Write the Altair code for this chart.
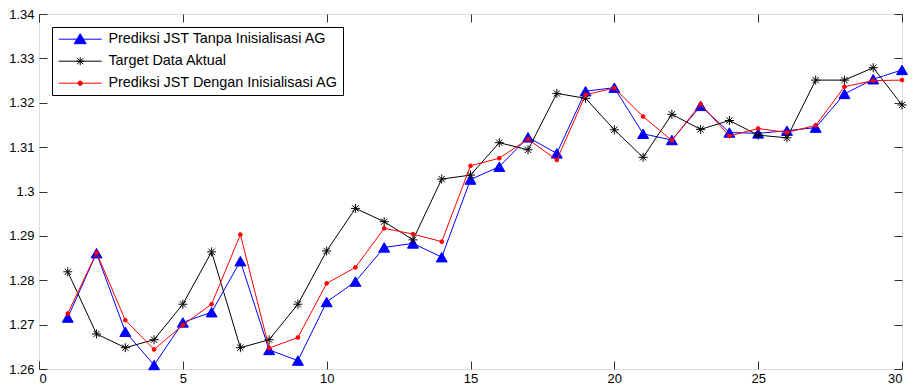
import altair as alt
import pandas as pd

# ---------------- data ----------------
x_values = list(range(1, 31))
series_names = [
    "Prediksi JST Tanpa Inisialisasi AG",
    "Target Data Aktual",
    "Prediksi JST Dengan Inisialisasi AG",
]
tanpa_ag = [1.2716, 1.2861, 1.2684, 1.2609, 1.2705, 1.2728, 1.2843, 1.2643, 1.2619, 1.2751,
            1.2797, 1.2874, 1.2883, 1.2852, 1.3027, 1.3056, 1.3122, 1.3086, 1.3226, 1.3234,
            1.3130, 1.3116, 1.3193, 1.3133, 1.3131, 1.3137, 1.3144, 1.3220, 1.3253, 1.3274]
target = [1.2819, 1.2679, 1.2648, 1.2666, 1.2746, 1.2864, 1.2648, 1.2666, 1.2746, 1.2866,
          1.2962, 1.2932, 1.2891, 1.3028, 1.3037, 1.3110, 1.3094, 1.3221, 1.3210, 1.3139,
          1.3077, 1.3174, 1.3140, 1.3160, 1.3127, 1.3121, 1.3251, 1.3251, 1.3279, 1.3195]
dengan_ag = [1.2725, 1.2862, 1.2710, 1.2644, 1.2699, 1.2746, 1.2903, 1.2647, 1.2671, 1.2793,
             1.2829, 1.2917, 1.2904, 1.2887, 1.3058, 1.3075, 1.3118, 1.3071, 1.3218, 1.3233,
             1.3169, 1.3115, 1.3197, 1.3125, 1.3142, 1.3133, 1.3149, 1.3236, 1.3250, 1.3251]
x_ticks = [0, 5, 10, 15, 20, 25, 30]
y_ticks = [1.26, 1.27, 1.28, 1.29, 1.30, 1.31, 1.32, 1.33, 1.34]

rows = []
for name, vals in zip(series_names, [tanpa_ag, target, dengan_ag]):
    for xv, yv in zip(x_values, vals):
        rows.append({"x": xv, "value": yv, "series": name})
df = pd.DataFrame(rows)

# ---------------- styles ----------------
FONT = "Liberation Sans"
FRAME = "#333333"
colors = ["#0000ff", "#000000", "#ff0000"]

ASTERISK = "M-1,0H1M0,-1V1M-0.7,-0.7L0.7,0.7M-0.7,0.7L0.7,-0.7"
legend_shapes = [
    "M-4.3,0H4.3M0,-1.1L1.2,0.9L-1.2,0.9Z",
    "M-4.3,0H4.3M-0.8,0H0.8M0,-0.8V0.8M-0.6,-0.6L0.6,0.6M-0.6,0.6L0.6,-0.6",
    "M-4.3,0H4.3M-0.45,0A0.45,0.45 0 1,0 0.45,0A0.45,0.45 0 1,0 -0.45,0Z",
]

x_scale = alt.Scale(domain=[0, 30], nice=False, zero=False)
y_scale = alt.Scale(domain=[1.26, 1.34], nice=False, zero=False)

TICK = 8
common_axis = dict(grid=False, domain=False, tickSize=TICK, offset=-TICK,
                   tickColor=FRAME, tickWidth=1, labelFont=FONT, labelFontSize=13,
                   labelColor="#000000", title=None)
bottom_axis = alt.Axis(orient="bottom", values=x_ticks, labelPadding=3, **common_axis)
left_axis = alt.Axis(orient="left", values=y_ticks, format=".2~f", labelPadding=5, **common_axis)
top_axis = alt.Axis(orient="top", values=x_ticks, labels=False, **common_axis)
right_axis = alt.Axis(orient="right", values=y_ticks, labels=False, **common_axis)

base = alt.Chart(df)


def series_layers(i, point_mark, with_axes=False):
    name = series_names[i]
    xa = bottom_axis if with_axes else None
    ya = left_axis if with_axes else None
    line = base.transform_filter(alt.datum.series == name).mark_line(
        color=colors[i], strokeWidth=1
    ).encode(
        x=alt.X("x:Q", scale=x_scale, axis=xa),
        y=alt.Y("value:Q", scale=y_scale, axis=ya),
    )
    pts = base.transform_filter(alt.datum.series == name).mark_point(**point_mark).encode(
        x=alt.X("x:Q", scale=x_scale, axis=None),
        y=alt.Y("value:Q", scale=y_scale, axis=None),
    )
    return [line, pts]


layers = []
layers += series_layers(0, dict(shape="triangle-up", filled=True, fill=colors[0],
                                stroke=colors[0], strokeWidth=1, size=120, opacity=1),
                        with_axes=True)
layers += series_layers(1, dict(shape=ASTERISK, filled=False, stroke=colors[1],
                                strokeWidth=1, size=81, opacity=1))
layers += series_layers(2, dict(shape="circle", filled=True, fill=colors[2],
                                stroke=colors[2], strokeWidth=1, size=14, opacity=1))

legend = alt.Legend(
    title=None, orient="none", legendX=13, legendY=13,
    symbolSize=100, symbolStrokeWidth=1, symbolOffset=16, labelOffset=21,
    labelFont=FONT, labelFontSize=14.4, labelColor="#000000", labelLimit=400,
    padding=5, rowPadding=7, strokeColor="#000000", fillColor="#ffffff",
)

legend_layer = base.transform_filter("false").mark_point(opacity=1, strokeWidth=1).encode(
    x=alt.X("x:Q", scale=x_scale, axis=top_axis),
    y=alt.Y("value:Q", scale=y_scale, axis=right_axis),
    fill=alt.Fill("series:N", scale=alt.Scale(domain=series_names, range=colors), legend=legend, sort=series_names),
    stroke=alt.Stroke("series:N", scale=alt.Scale(domain=series_names, range=colors), legend=legend, sort=series_names),
    shape=alt.Shape("series:N", scale=alt.Scale(domain=series_names, range=legend_shapes), legend=legend, sort=series_names),
)
layers.append(legend_layer)

chart = alt.layer(*layers).resolve_axis(x="independent", y="independent").properties(
    width=863, height=355,
    autosize=alt.AutoSizeParams(type="none"),
    padding={"left": 31, "top": 6, "right": 6, "bottom": 16},
    background="#ffffff",
).configure_view(stroke=FRAME, strokeWidth=1).configure(font=FONT)

chart.save("out.html", embed_options={"renderer": "svg", "actions": False})
